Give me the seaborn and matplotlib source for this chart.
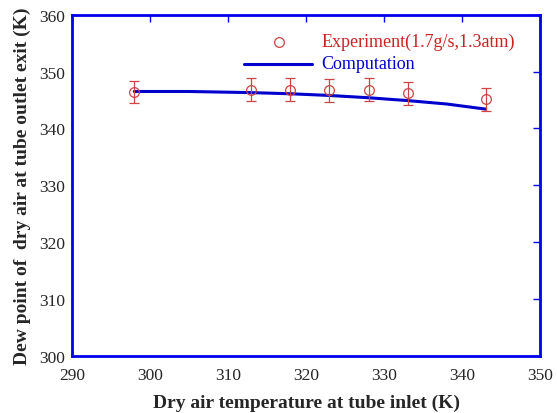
import matplotlib
matplotlib.use("Agg")
import matplotlib.pyplot as plt
import seaborn as sns
import pandas as pd

exp_x = [298, 313, 318, 323, 328, 333, 343]
exp_y = [346.4, 346.8, 346.8, 346.7, 346.8, 346.2, 345.1]
exp_err = [2.0, 2.0, 2.0, 2.0, 2.0, 2.0, 2.0]
comp_x = [298, 305, 313, 318, 323, 328, 333, 338, 343]
comp_y = [346.5, 346.5, 346.3, 346.1, 345.8, 345.4, 344.9, 344.3, 343.4]

sns.set_style("white")
plt.rcParams['font.family'] = ['Liberation Serif', 'DejaVu Serif']

fig = plt.figure(figsize=(5.57, 4.14), dpi=100)
ax = fig.add_axes([0.129, 0.138, 0.841, 0.824])

df_comp = pd.DataFrame({"x": comp_x, "y": comp_y})
sns.lineplot(data=df_comp, x="x", y="y", ax=ax, color="#0000cc", lw=2.2, label="Computation")
ax.errorbar(exp_x, exp_y, yerr=exp_err, fmt='none', ecolor="#cc4444", elinewidth=0.9, capsize=3.5, capthick=0.9)
ax.plot(exp_x, exp_y, 'o', mfc='none', mec="#cc4444", ms=7, mew=0.9, ls='none')

ax.set_xlim(290, 350)
ax.set_ylim(300, 360)
ax.set_xticks(range(290, 351, 10))
ax.set_yticks(range(300, 361, 10))
for s in ax.spines.values():
    s.set_color("#0000ee")
    s.set_linewidth(2)
ax.tick_params(direction='in', color="#0000ee", length=5, width=1, top=True, right=True,
               labelsize=12.5)
ax.tick_params(axis='x', pad=8)
ax.tick_params(axis='y', pad=5)
ax.set_xlabel("Dry air temperature at tube inlet (K)", fontsize=14, fontweight='bold', labelpad=8)
ax.set_ylabel("Dew point of  dry air at tube outlet exit (K)", fontsize=14, fontweight='bold', labelpad=6)
ax.get_legend().remove()

# legend drawn manually in axes coordinates
ax.plot([0.442], [0.921], 'o', transform=ax.transAxes, mfc='none', mec="#cc4444", ms=7, mew=0.9)
ax.text(0.532, 0.921, "Experiment(1.7g/s,1.3atm)", transform=ax.transAxes, color="#cc2222",
        fontsize=13, va='center')
ax.plot([0.368, 0.513], [0.856, 0.856], transform=ax.transAxes, color="#0000cc", lw=2.2)
ax.text(0.532, 0.856, "Computation", transform=ax.transAxes, color="#0000cc",
        fontsize=13, va='center')

fig.savefig("out.png", dpi=100)
